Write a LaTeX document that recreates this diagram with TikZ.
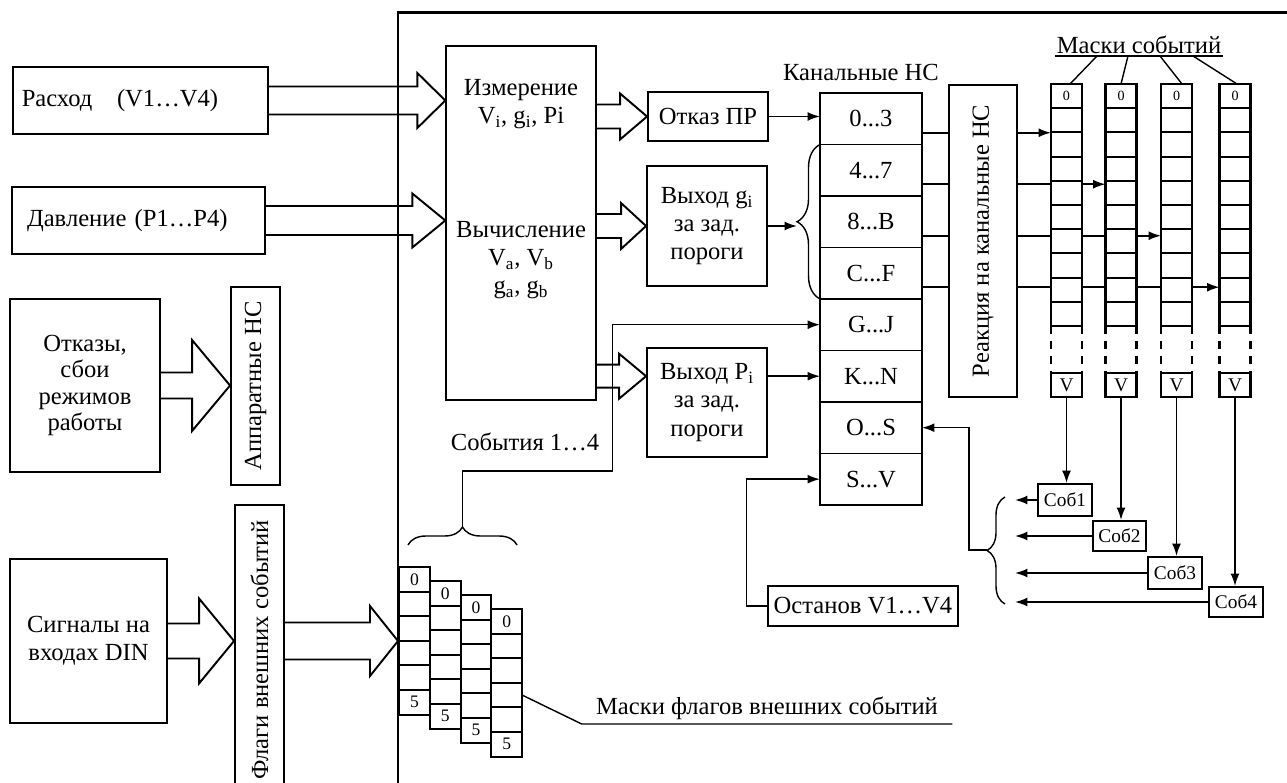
\documentclass[tikz,border=0pt]{standalone}
\usepackage{fontspec}
\setmainfont{Liberation Serif}
\usetikzlibrary{positioning, calc, arrows.meta, decorations.pathreplacing}

% hollow block arrow: start, end, head length, shaft half, head half
\newcommand{\fatarrow}[5]{%
  \draw[fat] let \p1=(#1), \p2=(#2) in
    ($(\x1,\y1)+(0,-#4)$) -- ($(\x2,\y1)+(-#3,-#4)$) -- ($(\x2,\y1)+(-#3,-#5)$)
    -- (\x2,\y1) -- ($(\x2,\y1)+(-#3,#5)$) -- ($(\x2,\y1)+(-#3,#4)$) -- ($(\x1,\y1)+(0,#4)$);}

\tikzset{
  blok/.style={draw, line width=1.1pt, inner sep=0pt, align=center},
  tonk/.style={draw, line width=0.8pt, inner sep=0pt, align=center},
  fat/.style={draw, line width=1.1pt},
  row/.style={tonk, minimum width=2.04cm, minimum height=1.03cm, outer sep=0pt},
  mcell/.style={draw, line width=1.2pt, minimum width=0.62cm, minimum height=0.484cm,
    inner sep=0pt, outer sep=0pt, font=\fontsize{8}{9}\selectfont},
  fcell/.style={draw, line width=1.1pt, minimum width=0.616cm, minimum height=0.492cm,
    inner sep=0pt, outer sep=0pt, font=\fontsize{10}{11}\selectfont},
  arr/.style={-{Latex[length=7pt,width=5pt]}, line width=0.9pt},
  skobka/.style={decorate, decoration={brace, amplitude=#1}, line width=0.8pt},
  skobka/.default=0.36cm
}

\begin{document}
\begin{tikzpicture}[x=0.02cm, y=-0.02cm, font=\fontsize{14}{16}\selectfont]
\useasboundingbox (0,0) rectangle (1287,783);
\clip (0,0) rectangle (1287,783);

% rama
\draw[line width=1.7pt] (398,790) -- (398,13) coordinate (fr) -- (1290,13);

% vhody
\node[blok, minimum height=1.34cm, text width=4.75cm, inner xsep=5pt, align=left] (rashod) at (140.5,100.5) {Расход\quad(V1…V4)};
\node[blok, minimum height=1.34cm, text width=4.46cm, inner xsep=8.5pt, align=left] (davl) at (138.5,220.5) {Давление (P1…P4)};
\node[blok, minimum width=3cm, minimum height=3.46cm, font=\fontsize{14}{15}\selectfont] (otkazy) at (85,385.5) {Отказы,\\сбои\\режимов\\работы};
\node[blok, minimum width=0.98cm, minimum height=3.96cm] (apparat) at (255.5,386) {\rotatebox{90}{Аппаратные НС}};
\node[blok, minimum width=3.14cm, minimum height=3.28cm] (signaly) at (88.5,641) {Сигналы на\\входах DIN};
\node[blok, minimum width=0.98cm, minimum height=5.8cm] (flagi) at (259.5,650) {\rotatebox{90}{Флаги внешних событий}};

% izmerenie
\node[tonk, minimum width=3cm, minimum height=7.08cm] (izm) at (521,223) {};
\node[align=center] (izm1) at (521,104) {Измерение\\V\textsubscript{i}, g\textsubscript{i}, Pi};
\node[align=center] (izm2) at (521,260) {Вычисление\\V\textsubscript{a}, V\textsubscript{b}\\g\textsubscript{a}, g\textsubscript{b}};

\node[blok, minimum width=2.4cm, minimum height=0.98cm] (otkazpr) at (708,116.5) {Отказ ПР};
\node[blok, minimum width=2.4cm, minimum height=2.4cm] (vyhg) at (707,226) {Выход g\textsubscript{i}\\за зад.\\пороги};
\node[blok, minimum width=2.4cm, minimum height=2.18cm] (vyhp) at (707,402.5) {Выход P\textsubscript{i}\\за зад.\\пороги};

% kanalnye NS
\node (kanlbl) at (861,72) {Канальные НС};
\node[row] (ch1) at (871,118.75) {0...3};
\node[row, below=0pt of ch1] (ch2) {4...7};
\node[row, below=0pt of ch2] (ch3) {8...B};
\node[row, below=0pt of ch3] (ch4) {C...F};
\node[row, below=0pt of ch4] (ch5) {G...J};
\node[row, below=0pt of ch5] (ch6) {K...N};
\node[row, below=0pt of ch6] (ch7) {O...S};
\node[row, below=0pt of ch7] (ch8) {S...V};

\node[blok, minimum width=1.36cm, minimum height=6.24cm] (reak) at (983,241) {\rotatebox{90}{Реакция на канальные НС}};

% big arrows
\fatarrow{rashod.east}{izm.west}{28}{14}{27.5}
\fatarrow{davl.east}{izm.west}{33}{14.5}{27}
\fatarrow{izm.east |- otkazpr}{otkazpr.west}{27}{12}{23}
\fatarrow{izm.east |- vyhg}{vyhg.west}{25}{12}{23}
\fatarrow{izm.east |- ch6}{vyhp.west}{27}{11.5}{22.5}
\fatarrow{otkazy.east}{apparat.west}{38}{13}{45.5}
\fatarrow{signaly.east}{flagi.west}{35}{17.5}{42.5}
\fatarrow{flagi.east |- signaly}{fr}{28}{18.5}{35}

\draw[arr] (otkazpr.east) -- (otkazpr.east -| ch1.west);
\draw[skobka=0.46cm] (ch4.south west) -- (ch2.north west);
\coordinate (gtip) at (797,222);
\draw[arr] (vyhg.east) -- (vyhg.east -| gtip);
\draw[arr] (vyhp.east |- ch6) -- (ch6.west);

% maski sobytij
\coordinate (c1) at (1051,84);
\coordinate (c2) at (1105.5,84);
\coordinate (c3) at (1161,84);
\coordinate (c4) at (1219.5,84);
\foreach \i in {1,...,4} {
  \draw[line width=0.9pt] ($(ch\i.east)+(0,14)$) coordinate (l\i) -- (l\i -| reak.west);
  \draw[arr] (l\i -| reak.east) -- (l\i -| c\i);
}
\foreach \c in {1,...,4} {
  \foreach \k in {0,...,9}
    \node[mcell, fill=white, anchor=north west] at ($(c\c)+(0,24.2*\k)$) {\ifnum\k=0 0\fi};
  \draw[line width=1.2pt, dash pattern=on 4.5pt off 4pt] ($(c\c)+(0,242)$) -- +(0,47) ($(c\c)+(31,242)$) -- +(0,47);
  \node[mcell, font=\fontsize{11}{12}\selectfont] (v\c) at ($(c\c)+(15.5,301)$) {V};
}
\node[anchor=south, inner sep=1pt] (maski) at (1139,56) {Маски событий};
\draw[line width=0.8pt] (maski.south west) -- (maski.south east);
\draw[line width=0.8pt] (1097,56) -- ($(c1)+(19,0)$);
\draw[line width=0.8pt] (1128,56) -- ($(c2)+(15.5,0)$);
\draw[line width=0.8pt] (1160,56) -- ($(c3)+(21,0)$);
\draw[line width=0.8pt] (1193,56) -- ($(c4)+(17.5,0)$);

% sobytija
\node[blok, minimum width=1.08cm, minimum height=0.64cm, font=\fontsize{11}{12}\selectfont] (sob1) at (1065,500) {Соб1};
\node[blok, minimum width=1.06cm, minimum height=0.6cm, font=\fontsize{11}{12}\selectfont] (sob2) at (1119.5,536) {Соб2};
\node[blok, minimum width=1.08cm, minimum height=0.64cm, font=\fontsize{11}{12}\selectfont] (sob3) at (1175,573) {Соб3};
\node[blok, minimum width=1.08cm, minimum height=0.6cm, font=\fontsize{11}{12}\selectfont] (sob4) at (1236,602) {Соб4};
\coordinate (sobx) at (1015,0);
\foreach \i in {1,...,4} {
  \draw[arr] (v\i.south) -- (v\i.south |- sob\i.north);
  \draw[arr] (sob\i.west) -- (sob\i.west -| sobx);
}
\draw[skobka] (1005,604) -- (1005,497);
\coordinate (otip) at (987,550);
\draw[arr] (otip) -- ++(-18,0) |- (ch7.east);

\node[tonk, minimum width=3.8cm, minimum height=0.8cm] (ostanov) at (863,606) {Останов V1…V4};
\draw[arr] (ostanov.west) -- ++(-21,0) |- (ch8.west);

% vneshnie sobytija
\node (sobyt) at (525,442) {События 1…4};
\draw[skobka] (408,545) -- (517,545);
\coordinate (sbtip) at (462.5,527);
\draw[arr] (sbtip) -- ++(0,-56) -- ++(150,0) |- (ch5.west);

\foreach \j in {1,...,4}
  \foreach \k in {1,...,6}
    \node[fcell, anchor=north west] (f\j-\k) at (399+30.8*\j-30.8, 567+14*\j-14+24.6*\k-24.6)
      {\ifnum\k=1 0\else\ifnum\k=6 5\fi\fi};
\node[anchor=south, inner xsep=8pt, inner ysep=2pt] (flagmaski) at (767,724) {Маски флагов внешних событий};
\draw[line width=0.8pt] (f4-4.east) -- (flagmaski.south west) -- (flagmaski.south east);
\end{tikzpicture}
\end{document}
